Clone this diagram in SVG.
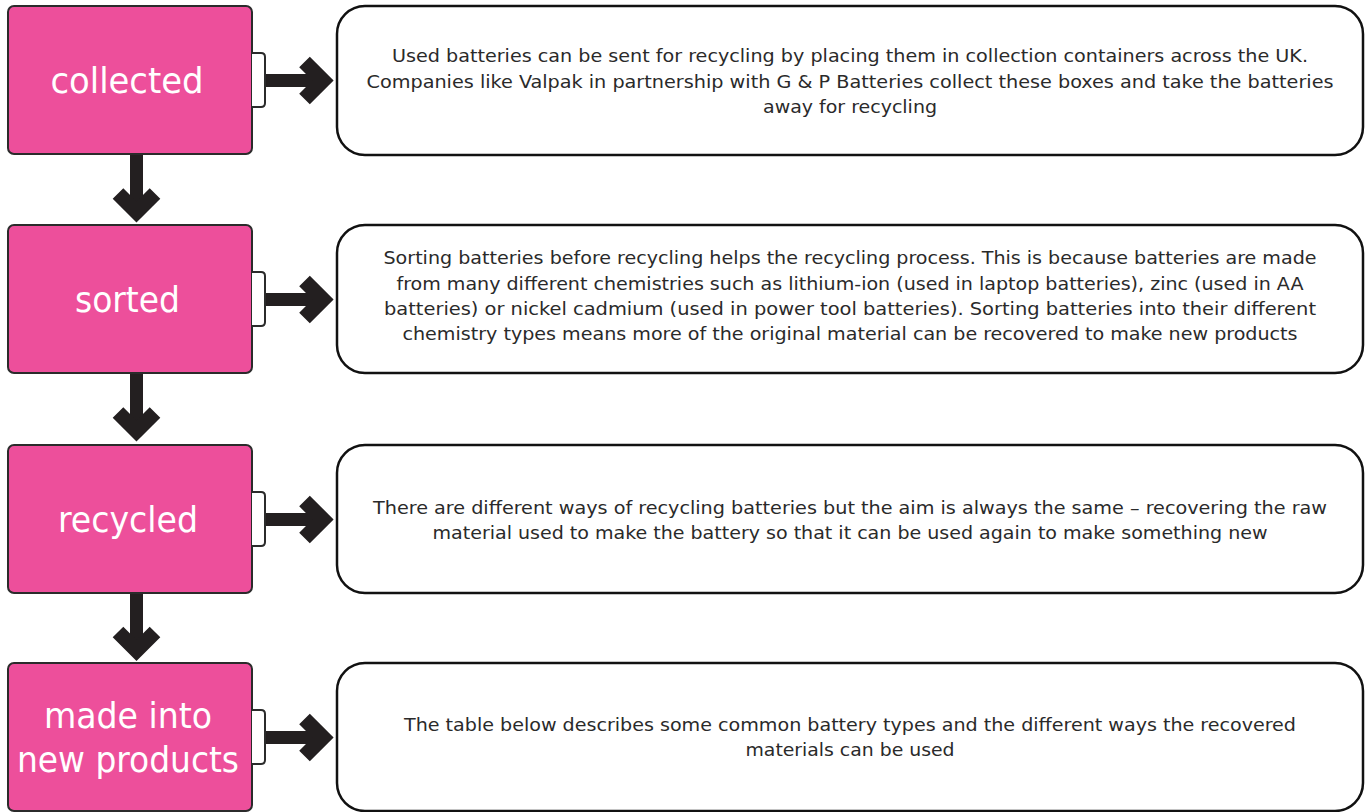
<svg xmlns="http://www.w3.org/2000/svg" width="1370" height="812" viewBox="0 0 1370 812">
<style>
.pink{fill:#ed4f9b;stroke:#2b2b2b;stroke-width:2}
.tab{fill:#fff;stroke:#2b2b2b;stroke-width:2}
.box{fill:#fff;stroke:#111;stroke-width:2.5}
.lbl{font-family:"DejaVu Sans Condensed","DejaVu Sans","Liberation Sans",sans-serif;font-stretch:condensed;font-size:35px;fill:#fff;text-anchor:middle}
.txt{font-family:"DejaVu Sans Condensed","DejaVu Sans","Liberation Sans",sans-serif;font-stretch:condensed;font-size:17px;fill:#2a2a2a;text-anchor:middle}
.shaft{fill:none;stroke:#231f20;stroke-width:13}
.head{fill:none;stroke:#231f20;stroke-width:15;stroke-linejoin:miter;stroke-miterlimit:10}
</style>
<rect width="1370" height="812" fill="#fff"/>
<g id="connectors">
  <line class="shaft" x1="136.5" y1="154" x2="136.5" y2="214"/>
  <polyline class="head" points="118,193.5 136.5,212 155,193.5"/>
  <line class="shaft" x1="136.5" y1="373" x2="136.5" y2="433"/>
  <polyline class="head" points="118,412.5 136.5,431 155,412.5"/>
  <line class="shaft" x1="136.5" y1="593" x2="136.5" y2="652"/>
  <polyline class="head" points="118,632 136.5,650.5 155,632"/>
  <line class="shaft" x1="265" y1="80.5" x2="324" y2="80.5"/>
  <polyline class="head" points="304.5,62 323,80.5 304.5,99"/>
  <line class="shaft" x1="265" y1="299.5" x2="324" y2="299.5"/>
  <polyline class="head" points="304.5,281 323,299.5 304.5,318"/>
  <line class="shaft" x1="265" y1="519.5" x2="324" y2="519.5"/>
  <polyline class="head" points="304.5,501 323,519.5 304.5,538"/>
  <line class="shaft" x1="265" y1="737.5" x2="324" y2="737.5"/>
  <polyline class="head" points="304.5,719 323,737.5 304.5,756"/>
</g>
<g id="n1">
  <rect class="pink" x="8" y="6" width="244" height="148" rx="6"/>
  <path class="tab" d="M252,53 H261 Q265,53 265,57 V103 Q265,107 261,107 H252"/>
  <text class="lbl" x="127" y="93" textLength="153" lengthAdjust="spacingAndGlyphs">collected</text>
</g>
<g id="d1">
  <rect class="box" x="337" y="6" width="1026" height="149" rx="28"/>
  <text class="txt" x="850" y="62" textLength="916" lengthAdjust="spacingAndGlyphs">Used batteries can be sent for recycling by placing them in collection containers across the UK.</text>
  <text class="txt" x="850" y="88" textLength="967" lengthAdjust="spacingAndGlyphs">Companies like Valpak in partnership with G &amp; P Batteries collect these boxes and take the batteries</text>
  <text class="txt" x="850" y="113" textLength="174" lengthAdjust="spacingAndGlyphs">away for recycling</text>
</g>
<g id="n2">
  <rect class="pink" x="8" y="225" width="244" height="148" rx="6"/>
  <path class="tab" d="M252,272 H261 Q265,272 265,276 V322 Q265,326 261,326 H252"/>
  <text class="lbl" x="127.5" y="312" textLength="105" lengthAdjust="spacingAndGlyphs">sorted</text>
</g>
<g id="d2">
  <rect class="box" x="337" y="225" width="1026" height="148" rx="28"/>
  <text class="txt" x="850" y="264" textLength="933" lengthAdjust="spacingAndGlyphs">Sorting batteries before recycling helps the recycling process. This is because batteries are made</text>
  <text class="txt" x="850" y="290" textLength="907" lengthAdjust="spacingAndGlyphs">from many different chemistries such as lithium-ion (used in laptop batteries), zinc (used in AA</text>
  <text class="txt" x="850" y="315" textLength="932" lengthAdjust="spacingAndGlyphs">batteries) or nickel cadmium (used in power tool batteries). Sorting batteries into their different</text>
  <text class="txt" x="850" y="340" textLength="895" lengthAdjust="spacingAndGlyphs">chemistry types means more of the original material can be recovered to make new products</text>
</g>
<g id="n3">
  <rect class="pink" x="8" y="445" width="244" height="148" rx="6"/>
  <path class="tab" d="M252,492 H261 Q265,492 265,496 V542 Q265,546 261,546 H252"/>
  <text class="lbl" x="128" y="532" textLength="140" lengthAdjust="spacingAndGlyphs">recycled</text>
</g>
<g id="d3">
  <rect class="box" x="337" y="445" width="1026" height="148" rx="28"/>
  <text class="txt" x="850" y="514" textLength="954" lengthAdjust="spacingAndGlyphs">There are different ways of recycling batteries but the aim is always the same – recovering the raw</text>
  <text class="txt" x="850" y="539" textLength="835" lengthAdjust="spacingAndGlyphs">material used to make the battery so that it can be used again to make something new</text>
</g>
<g id="n4">
  <rect class="pink" x="8" y="663" width="244" height="148" rx="6"/>
  <path class="tab" d="M252,710 H261 Q265,710 265,714 V760 Q265,764 261,764 H252"/>
  <text class="lbl" x="128" y="728" textLength="168" lengthAdjust="spacingAndGlyphs">made into</text>
  <text class="lbl" x="128" y="772" textLength="222" lengthAdjust="spacingAndGlyphs">new products</text>
</g>
<g id="d4">
  <rect class="box" x="337" y="663" width="1026" height="148" rx="28"/>
  <text class="txt" x="850" y="731" textLength="892" lengthAdjust="spacingAndGlyphs">The table below describes some common battery types and the different ways the recovered</text>
  <text class="txt" x="850" y="756" textLength="209" lengthAdjust="spacingAndGlyphs">materials can be used</text>
</g>
</svg>
